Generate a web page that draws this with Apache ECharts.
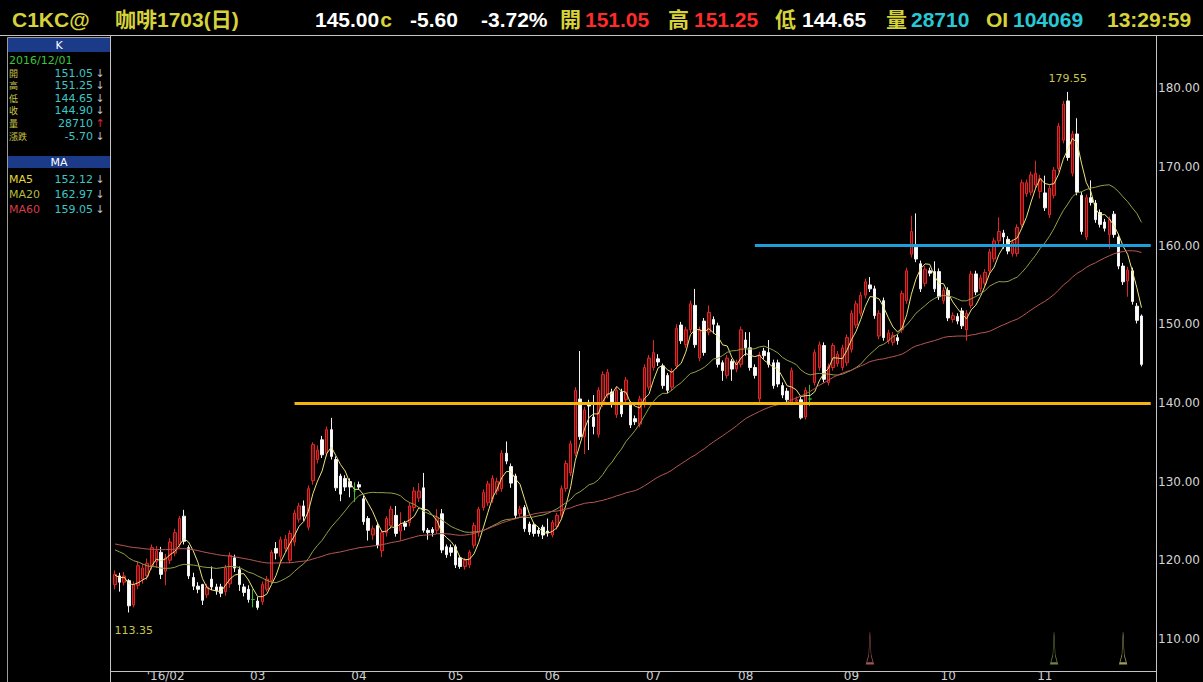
<!DOCTYPE html>
<html><head><meta charset="utf-8">
<script src="https://cdn.jsdelivr.net/npm/echarts@6/dist/echarts.min.js"></script>
<style>html,body{margin:0;padding:0;background:#000;overflow:hidden}#c{width:1203px;height:682px}</style>
</head><body><div id="c"></div>
<script>
// ---- time axis: trading days per month, Jan (partial) .. Dec (1 day) 2016
const monthBarCounts = [11,20,22,21,21,22,20,23,21,21,21,1];
const monthNames = ['01','02','03','04','05','06','07','08','09','10','11','12'];
const xTickLabels = ["'16/02","03","04","05","06","07","08","09","10","11"]; // months 02..11
const yTickValues = [110,120,130,140,150,160,170,180];

// ---- OHLC (daily)
const opens = [116.9,118.0,117.2,117.4,114.3,116.8,117.6,118.0,119.2,119.8,
121.0,118.6,120.0,120.9,122.0,125.6,121.6,117.8,116.7,116.9,
115.6,117.6,116.6,116.6,116.0,117.0,120.3,118.8,116.6,116.3,
115.0,114.8,114.7,116.3,117.4,121.5,120.5,121.5,120.0,122.3,
125.2,126.9,124.2,130.1,132.8,135.3,133.6,136.6,132.8,130.7,
130.4,130.0,128.8,129.6,127.8,125.3,123.2,124.4,121.2,123.5,
124.4,125.7,123.7,124.7,124.8,126.7,127.9,129.2,123.8,123.9,
123.8,125.9,121.7,121.6,121.7,120.3,119.2,119.4,121.9,123.5,
126.7,127.3,127.8,128.8,129.1,133.6,131.9,130.7,125.9,126.7,
124.6,124.5,123.8,124.2,123.7,123.2,124.3,125.7,129.1,131.1,
133.6,140.5,135.7,140.0,138.2,136.0,139.9,141.0,141.4,138.5,
141.4,140.4,139.8,138.0,137.3,139.8,142.0,144.5,145.6,144.7,
143.5,142.0,144.7,149.9,147.4,149.3,152.4,145.7,150.4,149.0,
150.6,149.8,145.1,143.5,145.3,144.3,144.9,148.0,147.0,144.5,
140.5,146.6,146.4,145.1,145.1,142.2,141.5,140.1,140.2,140.4,
138.2,140.5,142.6,144.5,147.3,142.6,144.5,145.0,144.5,145.1,
146.8,149.9,151.4,153.7,155.0,154.5,148.5,153.0,147.9,147.7,
148.3,149.3,153.0,158.9,159.8,157.7,155.2,156.8,156.7,156.7,
153.0,154.3,150.6,151.0,151.7,149.3,152.4,156.4,154.5,155.2,
156.8,158.3,160.6,161.6,160.8,159.0,159.0,162.7,166.6,166.8,
167.7,166.9,166.7,163.9,166.4,169.8,173.4,178.4,169.2,174.2,
166.4,161.1,166.1,165.4,164.2,163.0,161.4,164.0,161.1,157.4,
155.5,156.8,152.3,151.05];
const closes = [118.2,117.2,118.0,114.2,116.9,119.3,119.0,119.6,121.6,121.2,
118.2,120.3,122.3,123.5,125.3,122.4,118.0,116.7,116.3,114.9,
116.6,116.6,116.1,115.8,119.0,120.6,119.0,116.9,115.9,115.0,
115.0,114.0,116.9,117.6,121.0,120.9,122.6,122.7,123.4,126.0,
126.9,125.6,129.1,134.7,134.0,133.4,136.6,133.2,129.2,128.4,
129.3,129.3,128.8,129.3,124.9,123.8,124.0,121.9,123.5,125.3,
126.5,123.4,124.5,124.3,126.9,128.8,128.8,123.8,123.5,123.5,
125.4,121.3,120.7,121.0,119.4,119.2,120.0,121.0,124.4,126.5,
128.6,129.7,130.4,130.0,133.6,132.6,129.8,125.7,126.5,124.0,
123.6,123.4,123.4,123.2,123.5,124.8,125.7,129.1,132.3,134.8,
141.6,135.7,139.1,139.6,137.0,141.6,143.6,143.9,139.8,141.6,
138.6,142.9,137.2,137.6,140.5,144.5,145.7,146.4,145.2,142.2,
141.6,144.0,149.5,147.9,149.3,152.6,147.4,149.3,146.4,151.5,
150.0,144.9,144.1,145.7,144.3,145.1,149.3,147.0,144.5,143.5,
146.1,146.0,144.9,142.2,142.4,141.0,140.4,144.1,140.4,138.1,
141.6,140.5,146.4,147.4,143.0,144.6,147.3,146.2,147.0,148.3,
151.4,152.6,153.7,155.4,154.5,151.1,151.4,148.3,148.9,148.6,
147.9,153.9,156.8,161.8,158.3,154.5,157.0,156.5,154.5,153.5,
154.3,150.8,151.1,150.4,149.8,151.4,156.4,154.1,155.9,156.6,
159.2,160.6,161.8,161.1,159.3,160.4,162.3,168.0,168.0,169.0,
169.2,168.5,164.8,167.3,169.6,175.2,178.0,171.2,174.2,166.8,
161.8,166.1,165.5,163.3,162.7,162.2,163.3,161.4,157.4,155.4,
156.9,152.9,150.5,144.90];
const lows = [116.3,116.0,116.8,113.35,114.0,116.3,117.0,117.5,118.8,119.0,
117.6,116.8,119.5,120.5,121.6,122.0,117.6,116.2,115.8,114.3,
115.2,116.2,115.6,115.3,115.5,116.5,118.5,116.1,115.4,114.6,
114.0,113.7,114.3,116.0,117.0,120.1,119.8,121.0,119.6,121.8,
124.8,125.0,123.8,129.6,132.3,133.0,133.2,132.8,128.8,127.5,
128.8,128.0,127.4,129.0,124.5,122.5,122.6,121.5,120.4,123.0,
124.0,123.0,122.5,123.8,124.3,126.2,127.4,123.5,122.6,123.0,
123.4,120.9,120.3,120.5,119.0,118.9,118.8,119.0,121.5,123.0,
126.3,126.9,127.3,128.3,128.7,132.2,129.2,125.3,125.5,123.6,
123.2,123.0,123.0,122.7,123.0,122.9,123.9,125.3,128.7,130.7,
133.2,135.3,133.5,134.0,136.0,135.6,139.5,140.6,139.4,138.1,
138.2,140.0,136.8,137.2,136.9,139.4,141.6,144.1,144.7,141.8,
141.2,141.6,144.3,147.5,147.0,148.9,147.0,145.3,146.0,148.6,
148.8,144.5,142.8,143.1,142.8,143.9,144.5,146.0,144.1,143.1,
140.1,145.6,144.5,141.8,142.0,140.6,140.0,139.7,139.9,137.9,
137.9,139.6,142.2,144.1,142.6,142.2,144.1,144.6,144.1,144.7,
146.4,149.5,151.0,153.3,154.1,150.7,148.1,147.9,147.5,147.3,
147.4,148.9,152.6,158.5,157.9,154.1,154.8,156.1,154.1,153.1,
152.6,150.4,150.2,150.0,149.4,147.9,152.0,153.7,154.1,154.8,
156.4,157.9,160.2,159.6,158.9,158.6,158.6,162.3,166.2,166.4,
167.3,166.0,164.4,163.5,166.0,169.4,173.0,170.8,168.8,166.4,
161.4,160.7,165.1,162.9,162.3,161.8,159.6,161.0,157.0,155.0,
153.5,152.5,150.1,144.65];
const highs = [118.7,118.4,118.5,117.6,117.3,119.8,119.5,120.2,122.0,121.8,
121.7,120.8,122.8,124.0,125.6,126.4,121.9,118.4,117.2,117.0,
117.0,119.2,117.0,117.0,119.4,121.0,120.7,119.2,117.0,116.8,
116.3,115.3,117.3,118.0,121.3,122.3,123.0,123.2,123.8,126.4,
127.3,127.6,129.5,135.0,134.6,135.8,137.0,138.1,133.2,131.0,
130.8,130.4,129.9,130.0,128.2,125.6,124.4,124.8,123.8,125.6,
126.9,126.9,126.1,125.0,127.3,129.3,129.8,131.1,124.1,124.2,
126.5,126.5,122.0,122.0,122.0,120.6,120.3,121.3,124.8,126.8,
129.0,130.1,130.8,130.5,134.0,135.1,132.3,131.0,126.9,127.0,
124.9,124.8,124.2,124.5,125.3,125.1,126.0,129.5,132.7,135.2,
142.0,146.6,139.5,140.4,141.0,142.0,144.0,144.3,141.8,142.0,
141.8,143.3,140.2,138.4,140.9,144.9,146.1,148.0,146.2,145.0,
143.8,144.4,150.0,150.3,149.7,153.0,154.5,149.7,150.8,152.4,
151.0,150.2,145.4,146.1,145.6,145.5,149.7,149.0,149.0,144.9,
146.5,147.0,148.0,145.5,145.5,142.6,141.9,144.5,140.8,140.8,
142.0,142.3,146.8,147.8,147.7,145.0,147.6,146.6,147.4,148.7,
151.8,153.0,154.1,155.8,156.0,154.9,151.8,153.4,149.3,149.0,
148.7,154.3,157.2,163.8,164.1,158.1,157.4,157.2,158.0,157.1,
154.7,154.7,151.5,151.4,152.1,151.8,156.8,156.8,156.3,157.0,
159.6,161.0,163.6,162.0,161.2,160.8,162.7,168.4,168.4,169.4,
170.8,169.0,168.9,167.7,170.0,175.6,178.4,179.55,174.6,176.2,
166.8,166.5,168.3,165.8,164.6,163.4,163.7,164.4,161.5,157.8,
157.3,157.2,152.7,151.25];
const dojiIdx = [30, 52, 151];
// closes before the visible window (needed for moving averages)
const priorCloses = [124.5,123.8,122.6,121.9,122.8,123.5,124.2,123.1,121.8,120.6,
119.9,120.8,121.5,122.4,121.7,120.9,121.6,122.8,123.6,124.1,
123.4,122.5,121.8,122.9,123.7,124.3,123.2,122.4,121.5,122.0,
122.8,123.4,122.6,121.7,120.8,121.5,122.3,123.0,122.1,121.6,
122.4,123.5,124.2,123.6,122.8,123.9,124.6,123.3,122.1,121.4,
120.8,121.9,121.2,120.5,119.6,118.9,117.6,118.4,117.4];
const maPeriods = [5, 20, 60];
const levelValues = [140, 160];
const levelStartIdx = [39, 139];
const signalIdx = [164, 204, 219];

// ---- texts
const headerTexts = ['C1KC@','咖啡1703(日)','145.00','c','-5.60','-3.72%','開','151.05','高','151.25','低','144.65','量','28710','OI','104069','13:29:59'];
const infoDate = '2016/12/01';
const infoLabels = ['開','高','低','收','量','漲跌'];
const infoValues = ['151.05','151.25','144.65','144.90','28710','-5.70'];
const infoUp = [false,false,false,false,true,false];
const maLabels = ['MA5','MA20','MA60'];
const maValues = ['152.12','162.97','159.05'];
const maUp = [false,false,false];

// ---- build
const categories = [];
const labelAt = {};
monthBarCounts.forEach((n, m) => {
  for (let k = 0; k < n; k++) {
    if (k === 0 && m >= 1 && m <= 10) labelAt[categories.length] = xTickLabels[m - 1];
    categories.push('2016-' + monthNames[m] + '-' + (k + 1));
  }
});
categories.push('pad1', 'pad2');
const nCat = categories.length;

const candleData = opens.map((o, i) => {
  const item = { value: [o, closes[i], lows[i], highs[i]] };
  if (dojiIdx.includes(i)) item.itemStyle = { color: '#2fbf2f', color0: '#2fbf2f', borderColor: '#2fbf2f', borderColor0: '#2fbf2f' };
  return item;
});
const allCloses = priorCloses.concat(closes);
function ma(n) {
  const off = priorCloses.length;
  return closes.map((_, i) => {
    let s = 0;
    for (let j = off + i - n + 1; j <= off + i; j++) s += allCloses[j];
    return +(s / n).toFixed(3);
  });
}
const maColors = ['#ece37c', '#93a043', '#b65656'];
const maxIdx = highs.indexOf(Math.max(...highs));
const minIdx = lows.indexOf(Math.min(...lows));
const levelColors = ['#f4b40e', '#1f9fda'];
const signalColors = ['#cc6a6a', '#8aa653', '#c9c66e'];

const Y = '#d6d23a', W = '#ffffff', R = '#ff2a2a', C = '#27c9d6';
const headerColors = [Y,Y,W,Y,W,W,Y,R,Y,R,Y,W,Y,C,Y,C,Y];
const hFont = 'bold 21px "Liberation Sans", "Noto Sans CJK TC", sans-serif';
const measureCtx = document.createElement('canvas').getContext('2d');
measureCtx.font = hFont;
const headerX = [12,115,315,null,410,481,560,585,668,694,775,802,886,911,986,1013,1107];
headerX[3] = headerX[2] + measureCtx.measureText(headerTexts[2]).width + 1;

const graphics = [];
headerTexts.forEach((t, k) => graphics.push({ type: 'text', x: headerX[k], y: 19, silent: true,
  style: { text: t, fill: headerColors[k], font: hFont, align: 'left', verticalAlign: 'middle', textAlign: 'left', textVerticalAlign: 'middle' } }));
const line = (x1, y1, x2, y2, c) => ({ type: 'line', silent: true, z: 50, shape: { x1, y1, x2, y2 }, style: { stroke: c || '#c4c4c4', lineWidth: 1 } });
graphics.push(line(0, 35.5, 1203, 35.5));
graphics.push(line(110.5, 36, 110.5, 682));
graphics.push(line(1156.5, 36, 1156.5, 682));
graphics.push(line(110, 671.5, 1156, 671.5));
// left info panel
graphics.push({ type: 'rect', silent: true, shape: { x: 7.5, y: 37.5, width: 103, height: 650 }, style: { fill: 'none', stroke: '#9c9c9c', lineWidth: 1 } });
graphics.push({ type: 'rect', silent: true, shape: { x: 8, y: 38, width: 102, height: 14 }, style: { fill: '#1b3a88' } });
graphics.push({ type: 'rect', silent: true, shape: { x: 8, y: 156, width: 102, height: 12 }, style: { fill: '#1b3a88' } });
const pFont = '11px "DejaVu Sans", sans-serif';
const cFont = '9px "Noto Sans CJK TC", sans-serif';
const txt = (t, x, y, fill, font, align) => ({ type: 'text', x, y, silent: true, z: 60,
  style: { text: t, fill, font, lineHeight: 11, align: align || 'left', verticalAlign: 'middle', textAlign: align || 'left', textVerticalAlign: 'middle' } });
graphics.push(txt('K', 59, 45, '#ffffff', pFont, 'center'));
graphics.push(txt('MA', 59, 162, '#ffffff', pFont, 'center'));
graphics.push(txt(infoDate, 9, 60, '#3cc43c', pFont));
const rowY = [73, 85.6, 98.2, 110.8, 123.4, 136];
infoLabels.forEach((l, k) => {
  graphics.push(txt(l, 9, rowY[k], '#c9c44a', cFont));
  graphics.push(txt(infoValues[k], 93, rowY[k], '#3ec6c6', pFont, 'right'));
  graphics.push(txt(infoUp[k] ? '↑' : '↓', 100, rowY[k], infoUp[k] ? '#e02525' : '#bdbdbd', pFont, 'center'));
});
const maRowY = [179, 194, 209];
const maLabelColors = ['#e2d83c', '#b4bc3c', '#d83c48'];
maLabels.forEach((l, k) => {
  graphics.push(txt(l, 9, maRowY[k], maLabelColors[k], pFont));
  graphics.push(txt(maValues[k], 93, maRowY[k], '#3ec6c6', pFont, 'right'));
  graphics.push(txt(maUp[k] ? '↑' : '↓', 100, maRowY[k], maUp[k] ? '#e02525' : '#bdbdbd', pFont, 'center'));
});

const series = [{
  type: 'candlestick', name: 'K', data: candleData, barWidth: 3, z: 2,
  itemStyle: { color: '#6a0e0e', color0: '#ffffff', borderColor: '#e02626', borderColor0: '#f2f2f2', borderWidth: 1 },
  markPoint: {
    symbol: 'circle', symbolSize: 1, silent: true, itemStyle: { color: 'rgba(0,0,0,0)' },
    label: { show: true, color: '#c8c453', fontSize: 11, fontFamily: 'DejaVu Sans' },
    data: [
      { coord: [maxIdx, highs[maxIdx]], value: highs[maxIdx].toFixed(2), label: { position: 'top', offset: [0, -2], formatter: highs[maxIdx].toFixed(2) } },
      { coord: [minIdx, lows[minIdx]], value: lows[minIdx].toFixed(2), label: { position: 'bottom', offset: [5, 7], formatter: lows[minIdx].toFixed(2) } }
    ]
  },
  markLine: {
    silent: true, symbol: ['none', 'none'], label: { show: false }, animation: false,
    data: levelValues.map((v, k) => [
      { coord: [levelStartIdx[k], v], lineStyle: { color: levelColors[k], width: 3, type: 'solid' } },
      { coord: [nCat - 1, v] }
    ])
  }
}];
maPeriods.forEach((p, k) => series.push({
  type: 'line', name: 'MA' + p, data: ma(p), showSymbol: false, symbol: 'none', z: 3,
  lineStyle: { color: maColors[k], width: 1 }
}));
series.push({
  type: 'scatter', name: 'signal', z: 4, silent: true,
  symbol: 'path://M3,0 L4,22 L6,30 L0,30 L2,22 Z', symbolSize: [7, 31],
  data: signalIdx.map((i, k) => ({ value: [i, 108.85], itemStyle: { color: 'rgba(0,0,0,0)', borderColor: signalColors[k], borderWidth: 1 } }))
});

const chart = echarts.init(document.getElementById('c'), null, { renderer: 'svg', width: 1203, height: 682 });
chart.setOption({
  backgroundColor: '#000000',
  animation: false,
  grid: { left: 112.7, top: 38, width: 1044, height: 633, containLabel: false },
  xAxis: {
    type: 'category', data: categories, boundaryGap: true,
    axisLine: { show: false }, axisTick: { show: false }, splitLine: { show: false },
    axisLabel: {
      interval: (idx) => labelAt[idx] !== undefined,
      formatter: (v, idx) => labelAt[idx] || '',
      color: '#d0d0d0', fontSize: 12, fontFamily: 'DejaVu Sans', margin: 6
    }
  },
  yAxis: {
    type: 'value', position: 'right', min: 106.8, max: 186.4, scale: true,
    axisLine: { show: false }, axisTick: { show: false }, splitLine: { show: false },
    axisLabel: { customValues: yTickValues, formatter: (v) => v.toFixed(2), color: '#d4d4d4', fontSize: 12, fontFamily: 'DejaVu Sans', margin: 5 }
  },
  series,
  graphic: { elements: graphics }
});
</script></body></html>
